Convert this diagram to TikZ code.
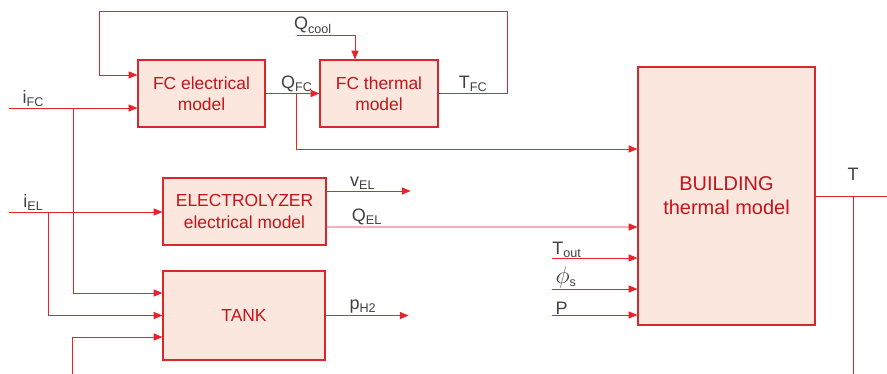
\documentclass[tikz,border=0pt]{standalone}
\usepackage{fontspec}
\setmainfont{Liberation Sans}
\usetikzlibrary{arrows.meta,positioning,calc}
\definecolor{sigred}{HTML}{E8232B}
\definecolor{boxred}{HTML}{D7282F}
\definecolor{boxfill}{HTML}{FCE7DE}
\definecolor{boxtext}{HTML}{C4141B}
\definecolor{lblgray}{HTML}{404040}
\newcommand{\sig}[2]{#1\textsubscript{#2}}
\tikzset{
  blk/.style ={draw=boxred, fill=boxfill, line width=0.8pt, align=center,
               text=boxtext, inner sep=0pt, font=\fontsize{12.4}{15}\selectfont},
  sline/.style={draw=sigred, line width=0.6pt},
  sarr/.style ={sline, -{Triangle[length=2.2mm,width=1.8mm]}},
  lbl/.style  ={text=lblgray, inner sep=1pt, font=\fontsize{12.8}{15}\selectfont},
}
\begin{document}
\begin{tikzpicture}[x=0.025cm, y=-0.025cm]
\useasboundingbox (0,0) rectangle (887,374);
% blocks
\node[blk, minimum width=3.175cm, minimum height=1.675cm] (fce) at (201.5,93.5) {FC electrical\\model};
\node[blk, minimum width=2.95cm,  minimum height=1.675cm] (fct) at (379,93.5)   {FC thermal\\model};
\node[blk, minimum width=4.075cm, minimum height=1.675cm] (ely) at (244.5,211.5) {ELECTROLYZER\\electrical model};
\node[blk, minimum width=4.05cm,  minimum height=2.225cm] (tank) at (244,315.5) {TANK};
\node[blk, minimum width=4.425cm, minimum height=6.45cm, font=\fontsize{14.2}{17}\selectfont]
  (bld) at (726.5,196) {BUILDING\\thermal model};

% free ends and junctions
\coordinate (iFC) at (9,108);
\coordinate (jFC) at (73,108);
\coordinate (iEL) at (9,212);
\coordinate (jEL) at (48,212);
\coordinate (h2in) at (72,374);
\coordinate (qcool) at (297,35);
\coordinate (jQ) at ($(fce.east)!0.58!(fct.west)$);
\coordinate (tout) at (552,258);
\coordinate (phis) at (552,289);
\coordinate (pin) at (552,315);
\coordinate (Tend) at (887,196);
\coordinate (jT) at (853,196);

% fuel cell
\draw[sarr] (iFC) -- node[lbl, above, pos=0.19] {\sig{i}{FC}} (iFC -| fce.west);
\draw[sarr] (qcool) node[lbl, above right, xshift=-0.12cm] {\sig{Q}{cool}} -| ([xshift=-0.6cm]fct.north);
\draw[sarr] (fce.east) -- (fct.west);
\node[lbl, above=0pt of jQ] {\sig{Q}{FC}};
\draw[sarr] (fct.east) -- node[lbl, above] {\sig{T}{FC}} ++(69,0) |- ++(-408,-82)
            |- ([yshift=0.4625cm]fce.west);
\draw[sarr] (jQ) |- ([yshift=1.175cm]bld.west);

% electrolyzer
\draw[sarr] (iEL) -- node[lbl, above, pos=0.16] {\sig{i}{EL}} (iEL -| ely.west);
\draw[sarr] ([yshift=0.5125cm]ely.east) -- node[lbl, above, pos=0.43] {\sig{v}{EL}} ++(84,0);
\draw[sarr] ([yshift=-0.3875cm]ely.east) -- node[lbl, above, pos=0.13] {\sig{Q}{EL}} ([yshift=-0.775cm]bld.west);

% tank
\draw[sarr] (jFC) |- ([yshift=0.5625cm]tank.west);
\draw[sarr] (jEL) |- (tank.west);
\draw[sarr] (h2in) |- ([yshift=-0.5375cm]tank.west);
\draw[sarr] (tank.east) -- node[lbl, above, pos=0.45] {\sig{p}{H2}} ++(83,0);

% building
\draw[sarr] (tout) node[lbl, above right, inner sep=0pt] {\sig{T}{out}} -- (tout -| bld.west);
\draw[sarr] (phis) node[lbl, above right, inner sep=0pt, xshift=0.08cm]
  {{\fontsize{16}{16}\selectfont$\phi$}\textsubscript{s}} -- (phis -| bld.west);
\draw[sarr] (pin) node[lbl, above right, inner sep=0pt, xshift=0.08cm] {P} -- (pin -| bld.west);
\draw[sline] (bld.east) -- (Tend);
\draw[sline] (jT) -- ++(0,178);
\node[lbl, above=0.35cm of jT] {T};
\end{tikzpicture}
\end{document}
